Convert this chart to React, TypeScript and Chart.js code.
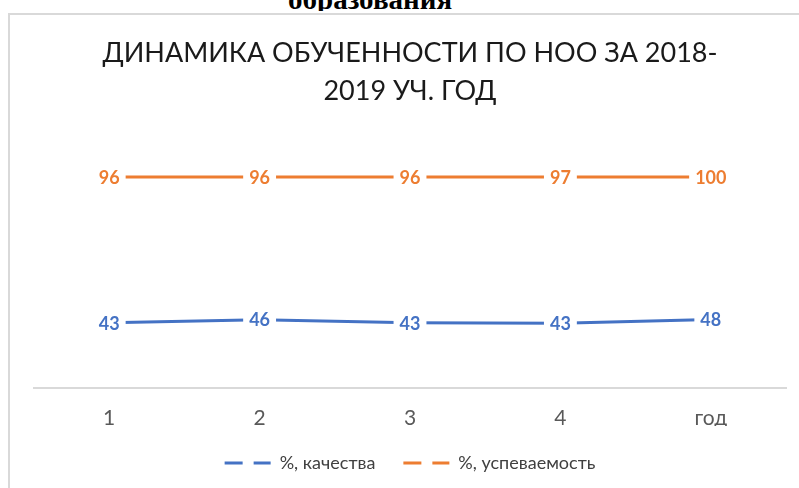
import React, { useEffect, useRef } from 'react';
import { Chart, registerables } from 'chart.js';

Chart.register(...registerables);

// ---- data ----
const categories = ['1', '2', '3', '4', 'год'];
const quality = [43, 46, 43, 43, 48];
const progress = [96, 96, 96, 97, 100];
const seriesNames = ['%, качества', '%, успеваемость'];
const titleLines = ['ДИНАМИКА ОБУЧЕННОСТИ ПО НОО ЗА 2018-', '2019 УЧ. ГОД'];
const headerText = 'образования';

const BLUE = '#4472C4';
const ORANGE = '#ED7D31';
const FONT = 'Lato';

// 100% stacked line: each series is shown as its share of the category total
const totals = quality.map((q, i) => q + progress[i]);
const qualityShare = quality.map((q, i) => (q / totals[i]) * 100);
const progressShare = progress.map((p, i) => (p / totals[i]) * 100);
const rawValues = [quality, progress];

const valueLabels = {
  id: 'valueLabels',
  afterDatasetsDraw(chart: any) {
    const ctx = chart.ctx;
    ctx.save();
    ctx.font = `bold 18px ${FONT}`;
    ctx.textAlign = 'center';
    ctx.textBaseline = 'middle';
    chart.data.datasets.forEach((ds: any, i: number) => {
      const meta = chart.getDatasetMeta(i);
      meta.data.forEach((pt: any, j: number) => {
        const t = String(rawValues[i][j]);
        const w = ctx.measureText(t).width;
        ctx.fillStyle = '#ffffff';
        ctx.fillRect(pt.x - w / 2 - 6, pt.y - 10, w + 12, 20);
        ctx.fillStyle = ds.borderColor;
        ctx.fillText(t, pt.x, pt.y + 1);
      });
    });
    ctx.restore();
  },
};

export default function App() {
  const ref = useRef<HTMLCanvasElement>(null);

  useEffect(() => {
    if (!ref.current) return;
    const chart = new Chart(ref.current, {
      type: 'line',
      data: {
        labels: categories,
        datasets: [
          {
            label: seriesNames[0],
            data: qualityShare,
            borderColor: BLUE,
            backgroundColor: BLUE,
            borderWidth: 3,
            pointRadius: 0,
            fill: false,
            tension: 0,
          },
          {
            label: seriesNames[1],
            data: progressShare,
            borderColor: ORANGE,
            backgroundColor: ORANGE,
            borderWidth: 3,
            pointRadius: 0,
            fill: false,
            tension: 0,
          },
        ],
      },
      options: {
        animation: false,
        responsive: false,
        devicePixelRatio: 1,
        layout: { padding: { top: 0, left: 34, right: 13, bottom: 6 } },
        scales: {
          x: {
            offset: true,
            grid: { display: true, drawOnChartArea: false, drawTicks: false },
            border: { display: true, color: '#d9d9d9', width: 2 },
            ticks: {
              color: '#595959',
              font: { family: FONT, size: 21, lineHeight: 1.2 },
              padding: 17.4,
            },
            afterFit: (s: any) => {
              s.height = 38;
            },
          },
          y: {
            display: false,
            stacked: true,
            min: 0,
            max: 120,
          },
        },
        plugins: {
          title: {
            display: true,
            text: titleLines,
            color: '#1a1a1a',
            font: { family: FONT, size: 27, weight: 'normal', lineHeight: 1.43 },
            padding: { top: 33.7, bottom: 23.8 },
          },
          legend: {
            display: true,
            position: 'bottom',
            labels: {
              color: '#404040',
              font: { family: FONT, size: 18 },
              usePointStyle: true,
              pointStyle: 'line',
              pointStyleWidth: 46,
              padding: 28,
              generateLabels: (c: any) => {
                const items = Chart.defaults.plugins.legend.labels.generateLabels(c);
                return items.map((it: any) => ({
                  ...it,
                  lineWidth: 3,
                  lineDash: [18, 11],
                  lineDashOffset: 0,
                }));
              },
            },
          },
          tooltip: { enabled: false },
        },
      },
      plugins: [valueLabels],
    });
    return () => chart.destroy();
  }, []);

  return (
    <div
      style={{
        position: 'fixed',
        left: 0,
        top: 0,
        width: 799,
        height: 488,
        overflow: 'hidden',
        background: '#ffffff',
      }}
    >
      <div
        style={{
          position: 'absolute',
          left: 288,
          top: 0,
          height: 11,
          overflow: 'hidden',
          width: 300,
        }}
      >
        <div
          style={{
            position: 'absolute',
            left: 0,
            top: -15,
            font: 'bold 29px "Liberation Serif"',
            lineHeight: '29px',
            whiteSpace: 'nowrap',
            color: '#000',
          }}
        >
          {headerText}
        </div>
      </div>
      <canvas
        ref={ref}
        width={799}
        height={488}
        style={{ position: 'absolute', left: 0, top: 0, display: 'block' }}
      />
      <div
        style={{
          position: 'absolute',
          left: 8,
          top: 13,
          width: 900,
          height: 600,
          border: '2px solid #d9d9d9',
          pointerEvents: 'none',
        }}
      />
    </div>
  );
}
